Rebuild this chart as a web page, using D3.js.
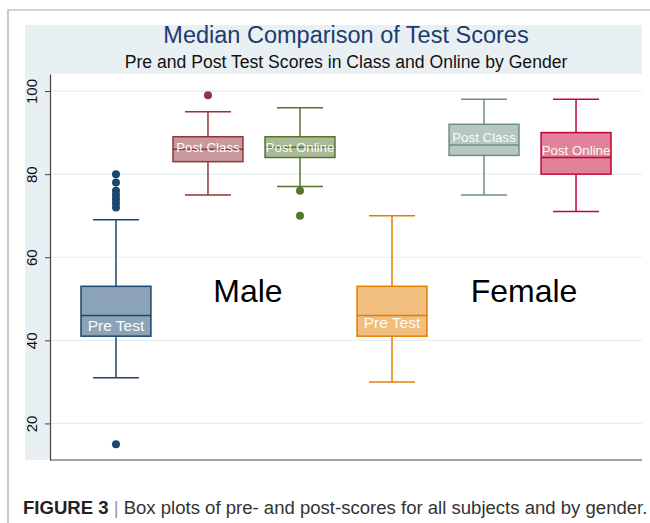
<!DOCTYPE html>
<html>
<head>
<meta charset="utf-8">
<script src="https://cdn.jsdelivr.net/npm/d3@7"></script>
<style>
  body { margin: 0; background: #fff; }
  svg { display: block; font-family: "Liberation Sans", Arial, Helvetica, sans-serif; }
</style>
</head>
<body>
<svg id="chart"></svg>
<script>
// values
const boxIds = ["m_pre", "m_class", "m_online", "f_pre", "f_class", "f_online"];
const boxLabels = ["Pre Test", "Post Class", "Post Online", "Pre Test", "Post Class", "Post Online"];
const genders = ["Male", "Female"];
const lowWhisker = [31, 75, 77, 30, 75, 71];
const q1 = [41, 83, 84, 41, 84.5, 80];
const medians = [46, 86, 86.5, 46, 87, 84];
const q3 = [53, 89, 89, 53, 92, 90];
const highWhisker = [69, 95, 96, 70, 98, 98];
const outliers = [[80, 78, 76, 75, 74, 73, 72, 15], [99], [76, 70], [], [], []];
const labelAt = [43.5, 86.6, 86.6, 44.3, 89, 85.8];   // where the box label sits (score units)
const genderLabelAt = 52;
const yTicks = [20, 40, 60, 80, 100];

const strokeCols = ["#1a476f", "#90353b", "#55752f", "#e37e00", "#6e8e84", "#c10534"];
const fillCols = ["#8ca3b7", "#c89a9d", "#aaba97", "#f1be7f", "#b6c6c1", "#e08299"];

const W = 650, H = 523;
const plot = {left: 50, right: 642, top: 74, bottom: 460};

const svg = d3.select("#chart").attr("width", W).attr("height", H);

// outer frame (top + left edge of the figure box)
svg.append("path")
    .attr("d", `M8,${H} V10 H${W}`)
    .attr("fill", "none")
    .attr("stroke", "#a8a8a8")
    .attr("stroke-width", 1.2);

// stata style light background + white plot region
svg.append("rect")
    .attr("x", 25).attr("y", 25)
    .attr("width", plot.right - 25).attr("height", plot.bottom - 25)
    .attr("fill", "#e9f0f3");
svg.append("rect")
    .attr("x", plot.left).attr("y", plot.top)
    .attr("width", plot.right - plot.left).attr("height", plot.bottom - plot.top)
    .attr("fill", "#fff");

const x = d3.scaleBand()
    .domain(boxIds)
    .range([plot.left, plot.right])
    .paddingInner(0)
    .paddingOuter(0.217);

const y = d3.scaleLinear()
    .domain([11.2, 104.1])
    .range([plot.bottom, plot.top]);

// grid lines
svg.append("g")
    .selectAll("line")
    .data(yTicks)
    .join("line")
    .attr("x1", plot.left).attr("x2", plot.right)
    .attr("y1", d => y(d)).attr("y2", d => y(d))
    .attr("stroke", "#e6eff1")
    .attr("stroke-width", 1.2);

// y axis
const yaxis = d3.axisLeft(y).tickValues(yTicks).tickSize(5).tickSizeOuter(0);
const yg = svg.append("g")
    .attr("transform", `translate(${plot.left},0)`)
    .call(yaxis);
yg.select(".domain").attr("stroke", "#444").attr("stroke-width", 1.2);
yg.selectAll(".tick line").attr("stroke", "#444");
yg.selectAll(".tick text")
    .attr("x", 0).attr("dy", null)
    .attr("transform", "translate(-13,0) rotate(-90)")
    .attr("text-anchor", "middle")
    .attr("font-size", "15px")
    .attr("font-family", "Liberation Sans, Arial, sans-serif")
    .attr("fill", "#111");

// bottom axis line
svg.append("line")
    .attr("x1", plot.left).attr("x2", plot.right)
    .attr("y1", plot.bottom).attr("y2", plot.bottom)
    .attr("stroke", "#444")
    .attr("stroke-width", 1.2);

// box plots
const boxes = boxIds.map((id, i) => ({
    id: id, label: boxLabels[i],
    lo: lowWhisker[i], q1: q1[i], med: medians[i], q3: q3[i], hi: highWhisker[i],
    out: outliers[i], labelAt: labelAt[i],
    stroke: strokeCols[i], fill: fillCols[i]
}));

const bw = x.bandwidth();
const boxW = bw * 0.76;
const capW = bw * 0.5;

const g = svg.append("g")
    .selectAll("g")
    .data(boxes)
    .join("g")
    .attr("transform", d => `translate(${x(d.id) + bw / 2},0)`);

// whiskers
g.append("line")
    .attr("x1", 0).attr("x2", 0)
    .attr("y1", d => y(d.hi)).attr("y2", d => y(d.q3))
    .attr("stroke", d => d.stroke).attr("stroke-width", 1.5);
g.append("line")
    .attr("x1", 0).attr("x2", 0)
    .attr("y1", d => y(d.q1)).attr("y2", d => y(d.lo))
    .attr("stroke", d => d.stroke).attr("stroke-width", 1.5);
g.append("line")
    .attr("x1", -capW / 2).attr("x2", capW / 2)
    .attr("y1", d => y(d.hi)).attr("y2", d => y(d.hi))
    .attr("stroke", d => d.stroke).attr("stroke-width", 1.5);
g.append("line")
    .attr("x1", -capW / 2).attr("x2", capW / 2)
    .attr("y1", d => y(d.lo)).attr("y2", d => y(d.lo))
    .attr("stroke", d => d.stroke).attr("stroke-width", 1.5);

// box + median
g.append("rect")
    .attr("x", -boxW / 2).attr("width", boxW)
    .attr("y", d => y(d.q3))
    .attr("height", d => y(d.q1) - y(d.q3))
    .attr("fill", d => d.fill)
    .attr("stroke", d => d.stroke)
    .attr("stroke-width", 1.5);
g.append("line")
    .attr("x1", -boxW / 2).attr("x2", boxW / 2)
    .attr("y1", d => y(d.med)).attr("y2", d => y(d.med))
    .attr("stroke", d => d.stroke).attr("stroke-width", 1.5);

// outliers
g.selectAll("circle")
    .data(d => d.out.map(v => ({v: v, c: d.stroke})))
    .join("circle")
    .attr("cx", 0)
    .attr("cy", d => y(d.v))
    .attr("r", 4)
    .attr("fill", d => d.c);

// labels inside the boxes
g.append("text")
    .attr("x", 0)
    .attr("y", d => y(d.labelAt))
    .attr("dy", "0.36em")
    .attr("text-anchor", "middle")
    .attr("font-size", d => d.label == "Pre Test" ? "15.5px" : "13.3px")
    .attr("fill", "#fbfbfb")
    .text(d => d.label);

// gender labels, between the two post boxes of each group
svg.append("g")
    .selectAll("text")
    .data(genders)
    .join("text")
    .attr("x", (d, i) => (x(boxIds[i * 3 + 1]) + x(boxIds[i * 3 + 2])) / 2 + bw / 2 - 6)
    .attr("y", y(genderLabelAt))
    .attr("dy", "0.36em")
    .attr("text-anchor", "middle")
    .attr("font-size", "32px")
    .attr("fill", "#000")
    .text(d => d);

// titles
const cx = (plot.left + plot.right) / 2;
svg.append("text")
    .attr("x", cx).attr("y", 43)
    .attr("text-anchor", "middle")
    .attr("font-size", "23.5px")
    .attr("fill", "#1c3b6e")
    .text("Median Comparison of Test Scores");
svg.append("text")
    .attr("x", cx).attr("y", 68)
    .attr("text-anchor", "middle")
    .attr("font-size", "17.6px")
    .attr("fill", "#111")
    .text("Pre and Post Test Scores in Class and Online by Gender");

// figure caption
const cap = svg.append("text")
    .attr("x", 23).attr("y", 514)
    .attr("font-size", "17px")
    .attr("fill", "#333");
cap.append("tspan").attr("font-weight", "bold").attr("fill", "#222").text("FIGURE 3");
cap.append("tspan").attr("fill", "#999").text(" | ");
cap.append("tspan").text("Box plots of pre- and post-scores for all subjects and by gender.");
// stretch the caption to the width it has in the figure
const capLen = cap.node().getComputedTextLength();
cap.attr("font-size", (17 * 625 / capLen) + "px");
</script>
</body>
</html>
